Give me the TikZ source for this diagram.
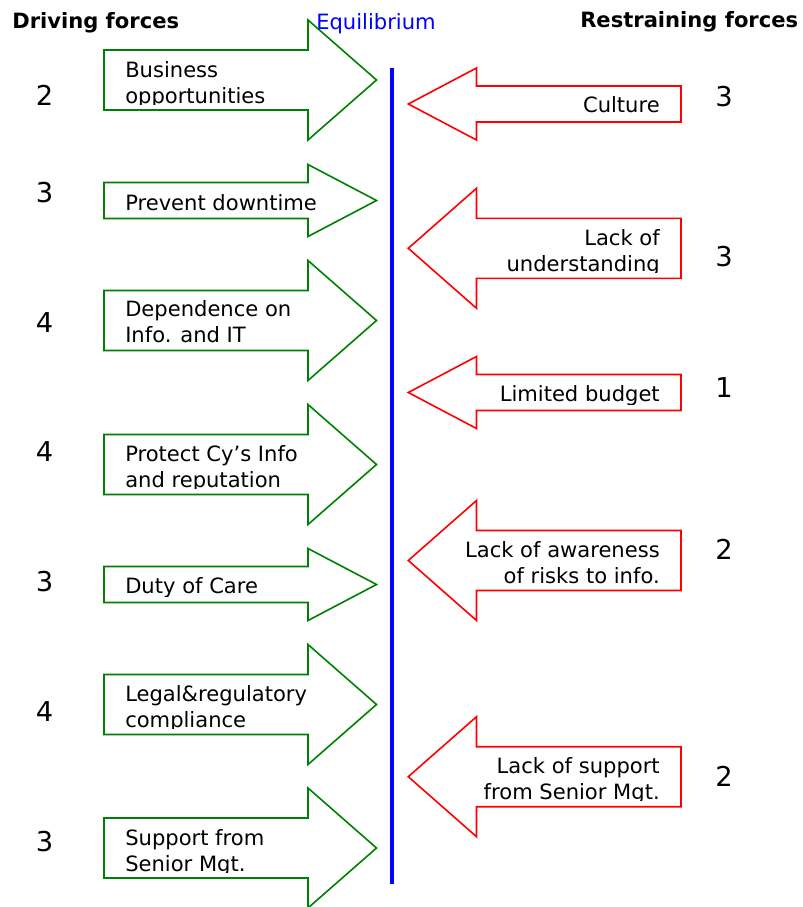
\documentclass[tikz,border=0pt]{standalone}
\usepackage{fontspec}
\setmainfont{DejaVu Sans}
\definecolor{drivegreen}{RGB}{0,128,0}
\definecolor{holdred}{RGB}{255,0,0}
\definecolor{eqblue}{RGB}{0,0,255}

% multi-line labels whose reference point is the first baseline
\newcommand\leftlines[1]{\begin{tabular}[t]{@{}l@{}}#1\end{tabular}}
\newcommand\rightlines[1]{\begin{tabular}[t]{@{}r@{}}#1\end{tabular}}

% driving force: name, centre y, half head, half shaft, first baseline, text
\newcommand\drive[6]{%
  \draw[driveline] (104,#2-#4) -- (308,#2-#4) -- (308,#2-#3) -- (376.5,#2)
     -- (308,#2+#3) -- (308,#2+#4) -- (104,#2+#4) -- cycle;
  \begin{scope}
    \clip (104,#2-#4) rectangle (376,#2+#4-6);
    \node[forcetext, anchor=base west] (#1) at (125,#5) {\leftlines{#6}};
  \end{scope}}

% restraining force: name, centre y, half head, half shaft, first baseline, text
\newcommand\hold[6]{%
  \draw[holdline] (681,#2-#4) -- (476.5,#2-#4) -- (476.5,#2-#3) -- (408.3,#2)
     -- (476.5,#2+#3) -- (476.5,#2+#4) -- (681,#2+#4) -- cycle;
  \begin{scope}
    \clip (408,#2-#4) rectangle (681,#2+#4-6);
    \node[forcetext, anchor=base east] (#1) at (660,#5) {\rightlines{#6}};
  \end{scope}}

\begin{document}
\begin{tikzpicture}[x=0.75pt,y=-0.75pt,
  driveline/.style={draw=drivegreen, line width=1.2pt, line join=miter},
  holdline/.style={draw=holdred, line width=1.2pt, line join=miter},
  forcetext/.style={inner sep=0pt, font=\fontsize{15.8}{19.5}\selectfont},
  heading/.style={inner sep=0pt, anchor=base west, font=\fontsize{15.8}{19}\selectfont\bfseries},
  score/.style={inner sep=0pt, font=\fontsize{20.5}{24}\selectfont}]
\useasboundingbox (0,0) rectangle (803,907);

% column headings
\node[heading] (drivinghead) at (12,28) {Driving forces};
\node[heading] (restraininghead) at (580,27) {Restraining forces};
\node[inner sep=0pt, anchor=base west, text=eqblue,
      font=\fontsize{15.8}{19}\selectfont] (eqhead) at (316,29.5) {Equilibrium};

% equilibrium line
\coordinate (eqtop) at (392,68);
\coordinate (eqbot) at (392,884);
\draw[eqblue, line width=3pt] (eqtop) -- (eqbot);

% driving forces
\drive{d1}{80}{60}{30}{77}{Business\\opportunities}
\drive{d2}{200.5}{36}{18}{210}{Prevent downtime}
\drive{d3}{320.5}{60}{30}{316.7}{Dependence on\\Info. and IT}
\drive{d4}{464.5}{60}{30}{461.7}{Protect Cy’s Info\\and reputation}
\drive{d5}{584.5}{36}{18}{593}{Duty of Care}
\drive{d6}{704.5}{60}{30}{701.7}{Legal\&regulatory\\compliance}
\drive{d7}{848}{60}{30}{845}{Support from\\Senior Mgt.}

% restraining forces
\hold{r1}{104}{36}{18}{112.7}{Culture}
\hold{r2}{248.3}{60}{30}{245}{Lack of\\understanding}
\hold{r3}{392.5}{36}{18}{401.7}{Limited budget}
\hold{r4}{560.5}{60}{30}{557.7}{Lack of awareness\\of risks to info.}
\hold{r5}{776.7}{60}{30}{773.3}{Lack of support\\from Senior Mgt.}

% scores of the driving forces
\node[score] (sd1) at (44.5,95.5) {2};
\node[score] (sd2) at (44.5,192.5) {3};
\node[score] (sd3) at (44.5,323) {4};
\node[score] (sd4) at (44.5,452) {4};
\node[score] (sd5) at (44.5,582) {3};
\node[score] (sd6) at (44.5,712) {4};
\node[score] (sd7) at (44.5,842) {3};

% scores of the restraining forces
\node[score] (sr1) at (724,96.5) {3};
\node[score] (sr2) at (724,257) {3};
\node[score] (sr3) at (724,388) {1};
\node[score] (sr4) at (724,549) {2};
\node[score] (sr5) at (724,776) {2};
\end{tikzpicture}
\end{document}
